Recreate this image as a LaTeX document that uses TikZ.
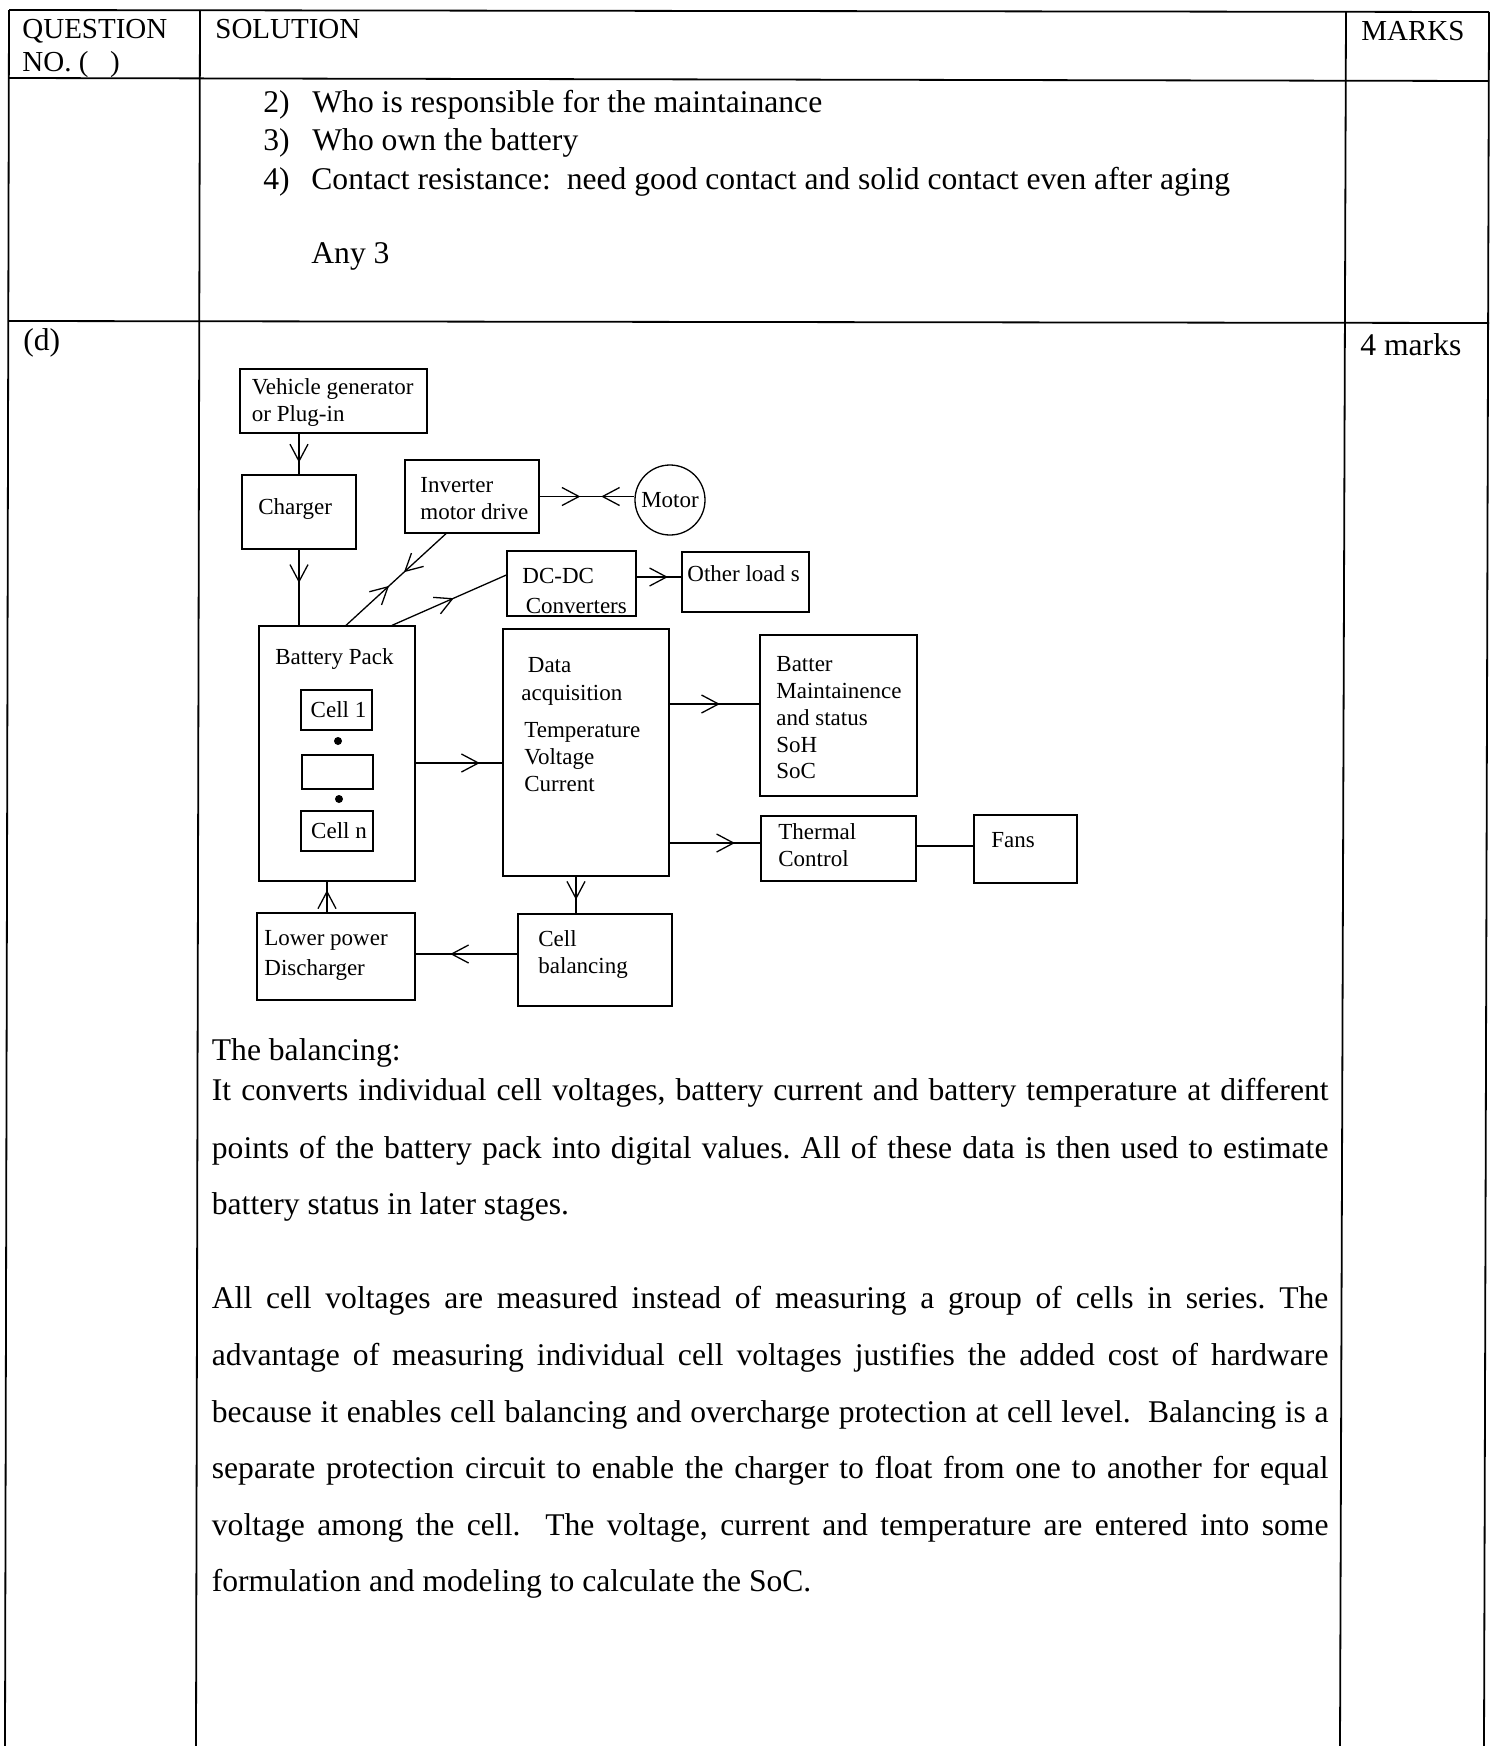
\documentclass[tikz,border=0pt]{standalone}
\usepackage{fontspec}
\setmainfont{Liberation Serif}
\usetikzlibrary{arrows.meta,decorations.markings,calc}
\newcommand\diagfont{\fontsize{11.5}{13.4}\selectfont}
\newcommand\bodyfont{\fontsize{15.8}{19}\selectfont}
\newcommand\headfont{\fontsize{14.5}{17}\selectfont}
\frenchspacing
\tikzset{
  vtip/.tip={Straight Barb[length=8.5pt,width=9pt]},
  tbl/.style={line width=0.9pt},
  box/.style={draw, rectangle, line width=0.65pt, inner sep=0pt, font=\diagfont},
  conn/.style={line width=0.65pt},
  dtext/.style={anchor=base west, inner sep=0pt, font=\diagfont},
  btext/.style={anchor=base west, inner sep=0pt, font=\bodyfont},
  htext/.style={anchor=base west, inner sep=0pt, font=\headfont},
  fwd/.style={postaction={decorate}, decoration={markings, mark=at position #1 with {\arrow{vtip}}}},
  bidir/.style n args={2}{postaction={decorate}, decoration={markings,
      mark=at position #1 with {\arrow{vtip}},
      mark=at position #2 with {\arrowreversed{vtip}}}},
  dotnode/.style={circle, fill, inner sep=0pt, minimum size=4pt},
}
\begin{document}
\begin{tikzpicture}[x=0.5pt,y=-0.5pt]
\useasboundingbox (0,0) rectangle (1495,1746);
\fill[white] (0,0) rectangle (1495,1746);

% ---------- table ----------
\draw[tbl] (9,10) -- (1489,12);
\draw[tbl] (9,78) -- (1489,81);
\draw[tbl] (9,321) -- (1489,323);
\draw[tbl] (9,10) -- (5,1746);
\draw[tbl] (200,10) -- (196,1746);
\draw[tbl] (1346,11) -- (1340,1746);
\draw[tbl] (1489,12) -- (1484,1746);

\node[htext] (hq1) at (22,38.5) {QUESTION};
\node[htext] (hq2) at (22,71.5) {NO. (\ \ \ )};
\node[htext] (hsol) at (215,38.5) {SOLUTION};
\node[htext] (hmk) at (1361,40.5) {MARKS};

\node[btext] (n2) at (263,112.5) {2)};
\node[btext] (i2) at (312,112.5) {Who is responsible for the maintainance};
\node[btext] (n3) at (263,150.5) {3)};
\node[btext] (i3) at (312,150.5) {Who own the battery};
\node[btext] (n4) at (263,189.5) {4)};
\node[btext] (i4) at (311,189.5) {Contact resistance:\ \ need good contact and solid contact even after aging};
\node[btext] (any) at (311,263.5) {Any 3};
\node[btext] (qd) at (23,350) {(d)};
\node[btext] (mk4) at (1360,355.5) {4 marks};

% ---------- body text ----------
\node[btext] (p0) at (211.5,1060.5) {The balancing:};
\node[btext] (p1) at (211.5,1100.5) {\makebox[558.25pt][s]{It converts individual cell voltages, battery current and battery temperature at different}};
\node[btext] (p2) at (211.5,1158.5) {\makebox[558.25pt][s]{points of the battery pack into digital values. All of these data is then used to estimate}};
\node[btext] (p3) at (211.5,1214.5) {battery status in later stages.};
\node[btext] (q1) at (211.5,1308.5) {\makebox[558.25pt][s]{All cell voltages are measured instead of measuring a group of cells in series. The}};
\node[btext] (q2) at (211.5,1365.5) {\makebox[558.25pt][s]{advantage of measuring individual cell voltages justifies the added cost of hardware}};
\node[btext] (q3) at (211.5,1422.5) {\makebox[558.25pt][s]{because it enables cell balancing and overcharge protection at cell level.\ \ Balancing is a}};
\node[btext] (q4) at (211.5,1478.5) {\makebox[558.25pt][s]{separate protection circuit to enable the charger to float from one to another for equal}};
\node[btext] (q5) at (211.5,1535.5) {\makebox[558.25pt][s]{voltage among the cell.\ \ The voltage, current and temperature are entered into some}};
\node[btext] (q6) at (211.5,1591.5) {formulation and modeling to calculate the SoC.};

% ---------- diagram boxes ----------
\node[box, minimum width=93.5pt, minimum height=32pt] (veh) at (333.5,401) {};
\node[box, minimum width=57pt, minimum height=37pt] (chg) at (299,512) {};
\node[box, minimum width=67pt, minimum height=36.5pt] (inv) at (472,496.5) {};
\node[draw, circle, line width=0.65pt, minimum size=35pt, inner sep=0pt, font=\diagfont] (motor) at (670,500) {Motor};
\node[box, minimum width=64.5pt, minimum height=32.5pt] (dcdc) at (571.5,583.5) {};
\node[box, minimum width=63.5pt, minimum height=30pt] (oth) at (745.5,582) {};
\node[box, minimum width=78pt, minimum height=127.5pt] (bat) at (337,753.5) {};
\node[box, minimum width=35.5pt, minimum height=20pt] (cell1) at (336.5,710) {\hspace*{2pt}Cell 1};
\node[box, minimum width=35.5pt, minimum height=17pt] (cellm) at (337.5,772) {};
\node[box, minimum width=36pt, minimum height=20pt] (celln) at (337,831) {\hspace*{2pt}Cell n};
\node[dotnode] (dot1) at (338,741) {};
\node[dotnode] (dot2) at (339,799) {};
\node[box, minimum width=83pt, minimum height=123.5pt] (data) at (586,752.5) {};
\node[box, minimum width=78.5pt, minimum height=80.5pt] (bstat) at (838.5,715.5) {};
\node[box, minimum width=77.5pt, minimum height=32.5pt] (therm) at (838.5,848.5) {};
\node[box, minimum width=51.5pt, minimum height=34pt] (fans) at (1025.5,849) {};
\node[box, minimum width=79pt, minimum height=43.5pt] (low) at (336,956.5) {};
\node[box, minimum width=77pt, minimum height=46pt] (cbal) at (595,960) {};

% ---------- diagram texts ----------
\node[dtext] (tveh1) at (251.5,394.5) {Vehicle generator};
\node[dtext] (tveh2) at (251.5,421.5) {or Plug-in};
\node[dtext] (tchg) at (258,514.5) {Charger};
\node[dtext] (tinv1) at (420,492.5) {Inverter};
\node[dtext] (tinv2) at (420,519.5) {motor drive};
\node[dtext] (tdc1) at (522,583.5) {DC-DC};
\node[dtext] (tdc2) at (525.5,613.5) {Converters};
\node[dtext] (toth) at (687,581.5) {Other load s};
\node[dtext] (tbat) at (275,664.5) {Battery Pack};
\node[dtext] (tda1) at (527.5,672.5) {Data};
\node[dtext] (tda2) at (521,700.5) {acquisition};
\node[dtext] (tda3) at (524,737.5) {Temperature};
\node[dtext] (tda4) at (524,764.5) {Voltage};
\node[dtext] (tda5) at (524,791.5) {Current};
\node[dtext] (tbs1) at (776,671.5) {Batter};
\node[dtext] (tbs2) at (776,698.5) {Maintainence};
\node[dtext] (tbs3) at (776,725.5) {and status};
\node[dtext] (tbs4) at (776,752.5) {SoH};
\node[dtext] (tbs5) at (776,778.5) {SoC};
\node[dtext] (tth1) at (778,839.5) {Thermal};
\node[dtext] (tth2) at (778,866.5) {Control};
\node[dtext] (tfan) at (991,847.5) {Fans};
\node[dtext] (tlow1) at (264,945.5) {Lower power};
\node[dtext] (tlow2) at (264,975.5) {Discharger};
\node[dtext] (tcb1) at (538,946.5) {Cell};
\node[dtext] (tcb2) at (538,973.5) {balancing};

% ---------- connectors ----------
\coordinate (cBI1) at (346,0);
\coordinate (cBI2) at (446,0);
\coordinate (cBD1) at (392,0);
\coordinate (cBD2) at (0,575);
\coordinate (cDO) at (0,577);
\coordinate (cBDa) at (0,763);
\coordinate (cDS) at (0,704);
\coordinate (cDT) at (0,843);
\coordinate (cTF) at (0,846);
\coordinate (cDC) at (576,0);
\coordinate (cCL) at (0,954);
\coordinate (cLB) at (327,0);

\draw[conn, fwd=0.71] (veh.south -| chg.north) -- (chg.north);
\draw[conn, fwd=0.44] (chg.south) -- (chg.south |- bat.north);
\draw[conn, bidir={0.43}{0.58}] (bat.north -| cBI1) -- (inv.south -| cBI2);
\draw[conn, fwd=0.54] (bat.north -| cBD1) -- (dcdc.west |- cBD2);
\draw[conn, bidir={0.43}{0.65}] (inv.east) -- (inv.east -| motor.west);
\draw[conn, fwd=0.7] (dcdc.east |- cDO) -- (oth.west |- cDO);
\draw[conn, fwd=0.74] (bat.east |- cBDa) -- (data.west |- cBDa);
\draw[conn, fwd=0.56] (data.east |- cDS) -- (bstat.west |- cDS);
\draw[conn, fwd=0.72] (data.east |- cDT) -- (therm.west |- cDT);
\draw[conn] (therm.east |- cTF) -- (fans.west |- cTF);
\draw[conn, fwd=0.63] (data.south -| cDC) -- (cbal.north -| cDC);
\draw[conn, fwd=0.66] (cbal.west |- cCL) -- (low.east |- cCL);
\draw[conn, fwd=0.72] (low.north -| cLB) -- (bat.south -| cLB);
\end{tikzpicture}
\end{document}
